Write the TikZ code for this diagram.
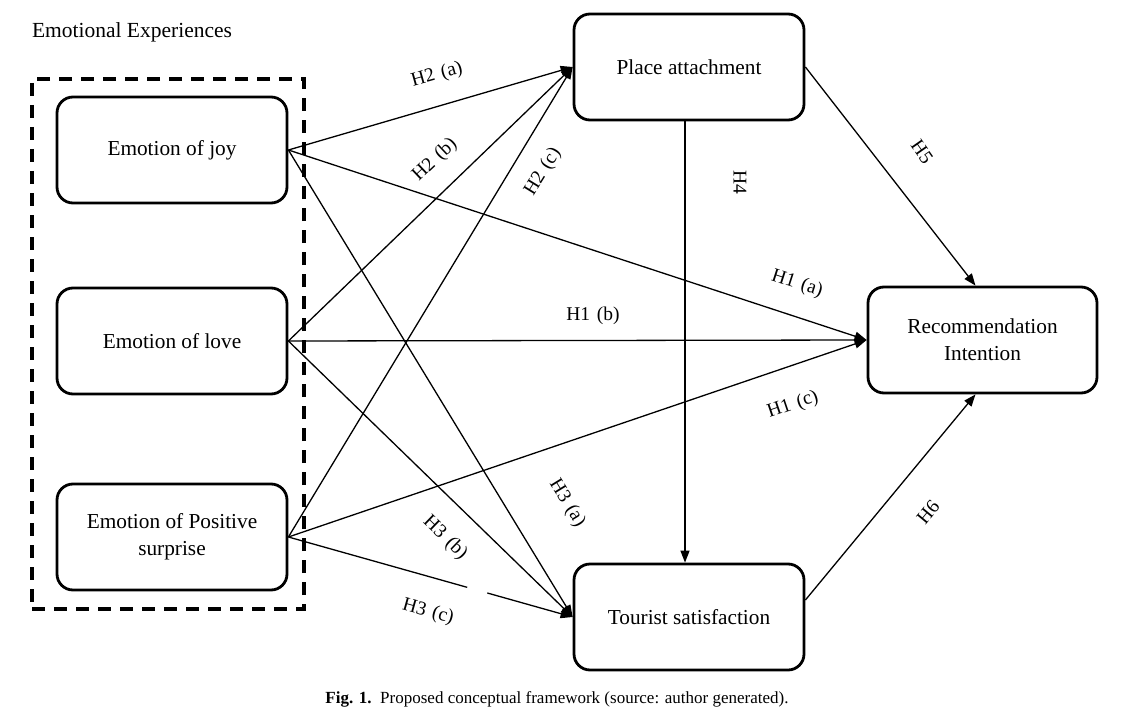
\documentclass[tikz,border=0pt]{standalone}
\usepackage{fontspec}
\setmainfont{Liberation Serif}
\usetikzlibrary{arrows.meta,calc}
\begin{document}
\begin{tikzpicture}[x=1pt,y=-1pt,
 box/.style={draw,line width=2.8pt,rounded corners=16pt,minimum width=230pt,minimum height=106pt,align=center,inner sep=0pt,font=\fontsize{21.3}{27}\selectfont},
 conn/.style={line width=1.3pt},
 arr/.style={conn,-{Triangle[length=12pt,width=9pt]}},
 lbl/.style={font=\fontsize{19.5}{22}\selectfont,inner sep=0pt},
 group/.style={draw,line width=3.2pt,dash pattern=on 13pt off 9pt,minimum width=272pt,minimum height=530pt,inner sep=0pt}]
\useasboundingbox (0,0) rectangle (1126,722);
\fill[white] (0,0) rectangle (1126,722);

% title and group
\node[font=\fontsize{21.5}{25}\selectfont,inner sep=0pt] (title) at (132,32) {Emotional Experiences};
\node[group] (grp) at (168,344) {};

% boxes
\node[box] (joy) at (172,150) {Emotion of joy};
\node[box] (love) at (172,341) {Emotion of love};
\node[box] (surp) at (172,537) {Emotion of Positive\\surprise};
\node[box] (pa) at (689,67) {Place attachment};
\node[box,minimum width=229pt] (ri) at (982.5,340) {Recommendation\\Intention};
\node[box] (ts) at (689,617) {Tourist satisfaction};

% H2 connectors
\draw[arr] (joy.east) -- (pa.west);
\draw[arr] (love.east) -- (pa.west);
\draw[arr] (surp.east) -- (pa.west);
% H1 connectors
\draw[arr] (joy.east) -- (ri.west);
\draw[arr] (love.east) -- (ri.west);
\draw[arr] (surp.east) -- (ri.west);
% H3 connectors
\draw[arr] (joy.east) -- (ts.west);
\draw[arr] (love.east) -- (ts.west);
\draw[conn] (surp.east) -- ($(surp.east)!0.629!(ts.west)$);
\draw[arr] ($(surp.east)!0.70!(ts.west)$) -- (ts.west);
% H4, H5, H6
\draw[arr] ([xshift=-4pt]pa.south) -- ([xshift=-4pt]ts.north);
\draw[arr] (pa.east) -- ([xshift=-7pt]ri.north);
\draw[arr] ([yshift=17pt]ts.east) -- ([xshift=-7pt]ri.south);

% labels
\node[lbl,rotate=15.6] (l2a) at (437,75) {H2\hspace{.35em}(a)};
\node[lbl,rotate=43.4] (l2b) at (435,160) {H2\hspace{.35em}(b)};
\node[lbl,rotate=58.4] (l2c) at (543,172) {H2\hspace{.35em}(c)};
\node[lbl,rotate=-18] (l1a) at (797,284) {H1\hspace{.35em}(a)};
\node[lbl] (l1b) at (593,316) {H1\hspace{.35em}(b)};
\node[lbl,rotate=18.7] (l1c) at (793,405) {H1\hspace{.35em}(c)};
\node[lbl,rotate=-58.4] (l3a) at (567,503) {H3\hspace{.35em}(a)};
\node[lbl,rotate=-44] (l3b) at (445,538) {H3\hspace{.35em}(b)};
\node[lbl,rotate=-15.6] (l3c) at (428,612) {H3\hspace{.35em}(c)};
\node[lbl,rotate=-90] (l4) at (740,182) {H4};
\node[lbl,rotate=-55] (l5) at (922,152) {H5};
\node[lbl,rotate=50.4] (l6) at (928,512) {H6};

% caption
\node[font=\fontsize{17}{20}\selectfont,inner sep=0pt] (cap) at (557,699) {\textbf{Fig. 1.}\hspace{.5em}Proposed conceptual framework (source: author generated).};
\end{tikzpicture}
\end{document}
